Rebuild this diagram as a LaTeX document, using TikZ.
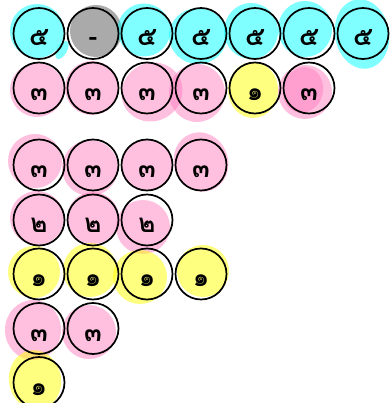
\documentclass[tikz,border=0pt]{standalone}
\usepackage{fontspec}
\newfontfamily\thaifont[Script=Thai]{Loma}
\usetikzlibrary{backgrounds}
\definecolor{blobcyan}{HTML}{00FFFF}
\definecolor{blobpink}{HTML}{FF80C0}
\definecolor{blobyellow}{HTML}{FFFF00}
\definecolor{blobgray}{HTML}{555555}
\begin{document}
\begin{tikzpicture}[x=1pt,y=-1pt,
  cell/.style={circle,draw=black,line width=1.7pt,minimum size=51pt,inner sep=0pt,
    text height=25pt,text depth=0pt,font=\thaifont\bfseries\fontsize{26}{26}\selectfont},
  cy/.style={fill=blobcyan,fill opacity=0.5},
  pk/.style={fill=blobpink,fill opacity=0.5},
  yl/.style={fill=blobyellow,fill opacity=0.5},
  gy/.style={fill=blobgray,fill opacity=0.5}]
\useasboundingbox (0,0) rectangle (390,403);
% top block
\node[cell] (a1) at (39,33.5) {๕};
\node[cell] (a2) at (93,33.5) {-};
\node[cell] (a3) at (147,33.5) {๕};
\node[cell] (a4) at (201,33.5) {๕};
\node[cell] (a5) at (255,33.5) {๕};
\node[cell] (a6) at (309,33.5) {๕};
\node[cell] (a7) at (363,33.5) {๕};
\node[cell] (b1) at (39,88) {๓};
\node[cell] (b2) at (93,88) {๓};
\node[cell] (b3) at (147,88) {๓};
\node[cell] (b4) at (201,88) {๓};
\node[cell] (b5) at (255,88) {๑};
\node[cell] (b6) at (309,88) {๓};
% lower block
\node[cell] (c1) at (39,165) {๓};
\node[cell] (c2) at (93,165) {๓};
\node[cell] (c3) at (147,165) {๓};
\node[cell] (c4) at (201,165) {๓};
\node[cell] (d1) at (39,220) {๒};
\node[cell] (d2) at (93,220) {๒};
\node[cell] (d3) at (147,220) {๒};
\node[cell] (e1) at (39,274) {๑};
\node[cell] (e2) at (93,274) {๑};
\node[cell] (e3) at (147,274) {๑};
\node[cell] (e4) at (201,274) {๑};
\node[cell] (f1) at (39,328.5) {๓};
\node[cell] (f2) at (93,328.5) {๓};
\node[cell] (g1) at (39,382.5) {๑};
% hand-drawn fills
\begin{scope}[on background layer]
\fill[cy] (37,31) ellipse [x radius=27,y radius=27];
\fill[cy] (62,50) ellipse [x radius=5,y radius=10,rotate=-30];
\fill[gy] (96,31) circle (26);
\fill[cy] (144,30) circle (26.5);
\fill[cy] (198,36) ellipse [x radius=29,y radius=28];
\fill[cy] (251,31) ellipse [x radius=27,y radius=28];
\fill[cy] (305,29) ellipse [x radius=27,y radius=28];
\fill[cy] (362,34) ellipse [x radius=27,y radius=35,rotate=10];
\fill[pk] (37,90) circle (27);
\fill[pk] (92,88) circle (27);
\fill[pk] (152,92) ellipse [x radius=31,y radius=29,rotate=30];
\fill[pk] (197,93) ellipse [x radius=28,y radius=29];
\fill[yl] (253,90) ellipse [x radius=25,y radius=28];
\fill[pk] (305,92) circle (27);
\fill[pk] (303,90) ellipse [x radius=20,y radius=23,rotate=-15];
\fill[pk] (35,161) circle (27);
\fill[pk] (90,168) circle (28);
\fill[pk] (147,165) circle (26);
\fill[pk] (201,162) ellipse [x radius=27,y radius=30,rotate=20];
\fill[pk] (37,218) circle (27);
\fill[pk] (93,218) circle (26);
\fill[pk] (143,227) circle (27);
\fill[yl] (34,272) circle (26);
\fill[yl] (90,270) circle (27);
\fill[yl] (140,277) circle (27);
\fill[yl] (203,271) circle (26);
\fill[pk] (33,330) ellipse [x radius=28,y radius=30];
\fill[pk] (89,332) circle (27);
\fill[yl] (35,380) ellipse [x radius=26,y radius=30,rotate=10];
\end{scope}
\end{tikzpicture}
\end{document}
